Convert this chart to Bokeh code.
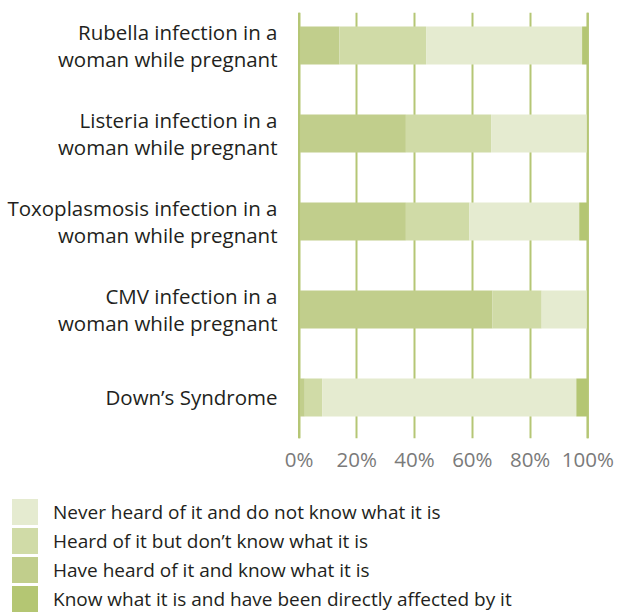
from bokeh.plotting import figure
from bokeh.layouts import column
from bokeh.models import Range1d, FixedTicker, Span, ColumnDataSource, Div
from bokeh.embed import file_html
from bokeh.resources import INLINE

categories = [
    "Rubella infection in a\nwoman while pregnant",
    "Listeria infection in a\nwoman while pregnant",
    "Toxoplasmosis infection in a\nwoman while pregnant",
    "CMV infection in a\nwoman while pregnant",
    "Down\u2019s Syndrome",
]
know = [14, 37, 37, 67, 2]
heard_not_know = [30, 29.5, 22, 17, 6]
never_heard = [54, 33.5, 38, 16, 88]
affected = [2, 0, 3, 0, 4]

series_keys = ["know", "heard", "never", "affected"]
series_labels = {
    "never": "Never heard of it and do not know what it is",
    "heard": "Heard of it but don\u2019t know what it is",
    "know": "Have heard of it and know what it is",
    "affected": "Know what it is and have been directly affected by it",
}
colors = {"know": "#c1ce8c", "heard": "#d0dba7", "never": "#e5ebd0", "affected": "#b4c673"}
legend_order = ["never", "heard", "know", "affected"]

tick_values = [0, 20, 40, 60, 80, 100]
tick_labels = ["0%", "20%", "40%", "60%", "80%", "100%"]

n = len(categories)
ypos = [n - 1 - i for i in range(n)]
source = ColumnDataSource(dict(y=ypos, know=know, heard=heard_not_know,
                               never=never_heard, affected=affected))

FONT = "Open Sans"
p = figure(frame_width=298, frame_height=426, min_border_left=294, min_border_right=30,
           min_border_top=12, min_border_bottom=50,
           x_range=Range1d(-1.56, 101.6), y_range=Range1d(-0.466, 4.375),
           output_backend="svg", toolbar_location=None)
p.outline_line_color = None

renderers = p.hbar_stack(series_keys, y="y", height=0.432, source=source,
                         color=[colors[k] for k in series_keys], line_color=None)

p.xgrid.ticker = FixedTicker(ticks=tick_values)
p.xgrid.grid_line_color = "#b5c675"
p.xgrid.grid_line_width = 2
p.ygrid.grid_line_color = None

for loc in (0, 100):
    p.add_layout(Span(location=loc, dimension="height", line_color="#b5c675",
                      line_width=2, level="overlay"))

p.xaxis.ticker = FixedTicker(ticks=tick_values)
p.xaxis.major_label_overrides = {v: l for v, l in zip(tick_values, tick_labels)}
p.xaxis.axis_line_color = None
p.xaxis.major_tick_line_color = None
p.xaxis.minor_tick_line_color = None
p.xaxis.major_label_text_font = FONT
p.xaxis.major_label_text_font_size = "20.5px"
p.xaxis.major_label_text_color = "#7a7a7a"
p.xaxis.major_label_standoff = 0

p.yaxis.ticker = FixedTicker(ticks=ypos)
p.yaxis.major_label_overrides = {y: c for y, c in zip(ypos, categories)}
p.yaxis.axis_line_color = None
p.yaxis.major_tick_line_color = None
p.yaxis.minor_tick_line_color = None
p.yaxis.major_label_text_font = FONT
p.yaxis.major_label_text_font_size = "20.5px"
p.yaxis.major_label_text_color = "#231f20"
p.yaxis.major_label_text_line_height = 0.95
p.yaxis.major_label_standoff = 11

# Legend (HTML) below the chart
rows = []
for k in legend_order:
    rows.append(
        '<div style="display:flex;align-items:center;height:26px;margin-bottom:3px;white-space:nowrap;">'
        f'<span style="display:inline-block;width:26px;height:26px;background:{colors[k]};margin-right:15px;flex:none;"></span>'
        f'<span>{series_labels[k]}</span></div>'
    )
legend_html = (
    f'<div style="font-family:\'{FONT}\';font-size:19px;color:#231f20;line-height:26px;'
    'padding:11px 0 0 12px;margin:0;">' + "".join(rows) + "</div>"
)
legend_div = Div(text=legend_html, width=622, height=125, margin=(0, 0, 0, 0))

layout = column(p, legend_div, spacing=0)
open("out.html", "w").write(file_html(layout, INLINE))
